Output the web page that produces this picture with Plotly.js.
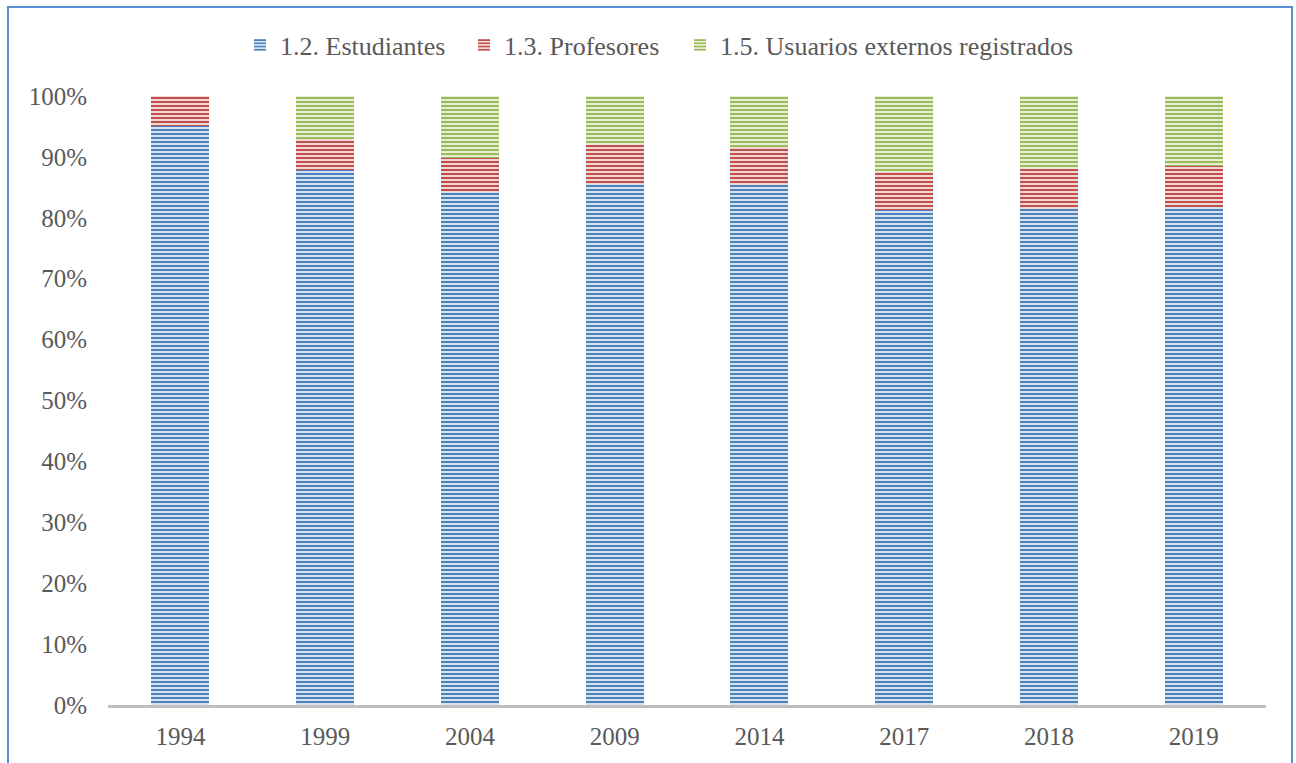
<!DOCTYPE html>
<html>
<head>
<meta charset="utf-8">
<script src="https://cdn.plot.ly/plotly-3.0.1.min.js"></script>
<style>
  html, body { margin: 0; padding: 0; background: #ffffff; }
  #wrap { position: relative; width: 1296px; height: 763px; overflow: hidden; }
  #chart { width: 1296px; height: 763px; }
  #frame { position: absolute; left: 7px; top: 6px; width: 1286px; height: 800px;
           border: 2px solid #5b8fd4; pointer-events: none; box-sizing: border-box; }
</style>
</head>
<body>
<div id="wrap">
  <div id="chart"></div>
  <div id="frame"></div>
</div>
<script>
const years = ["1994", "1999", "2004", "2009", "2014", "2017", "2018", "2019"];
const estudiantes = [95.1, 87.8, 84.2, 85.5, 85.4, 81.3, 81.4, 81.7];
const profesores  = [4.9, 5.1, 5.7, 6.4, 6.2, 6.3, 6.6, 6.8];
const externos    = [0.0, 7.1, 10.1, 8.1, 8.4, 12.4, 12.0, 11.5];
const yTicks = [0, 10, 20, 30, 40, 50, 60, 70, 80, 90, 100];
const yTickText = yTicks.map(v => v + "%");

function barTrace(name, values, fg, bg, lw) {
  const t = {
    type: "bar",
    name: name,
    x: years,
    y: values,
    marker: {
      color: bg,
      line: { width: 0 },
      pattern: { shape: "-", size: 4, solidity: 0.5, fgcolor: fg, bgcolor: bg, fillmode: "replace" }
    },
    hoverinfo: "x+y+name"
  };
  if (lw) t.legendwidth = lw;
  return t;
}

const data = [
  barTrace("1.2. Estudiantes", estudiantes, "#4f81bd", "#d6e2f2", 179),
  barTrace("1.3. Profesores", profesores, "#c0504d", "#f1d6d5", 171),
  barTrace("1.5. Usuarios externos registrados", externos, "#9bbb59", "#e6efd6", null)
];

const font = { family: "Liberation Serif, Cambria, serif", size: 25, color: "#595959" };

const layout = {
  width: 1296,
  height: 763,
  barmode: "stack",
  bargap: 0.6,
  paper_bgcolor: "#ffffff",
  plot_bgcolor: "#ffffff",
  margin: { l: 108, r: 30, t: 96, b: 58, pad: 0 },
  font: font,
  showlegend: true,
  legend: {
    orientation: "h",
    xref: "container", yref: "container",
    x: 0.1852, xanchor: "left",
    y: 0.941, yanchor: "middle",
    font: { family: font.family, size: 26, color: "#595959" },
    traceorder: "normal",
    bgcolor: "rgba(0,0,0,0)"
  },
  xaxis: {
    type: "category",
    showgrid: false,
    showline: true,
    linecolor: "#bfbfbf",
    linewidth: 3,
    ticks: "",
    ticklabelstandoff: 7,
    tickfont: font,
    zeroline: false
  },
  yaxis: {
    range: [0, 100],
    tickvals: yTicks,
    ticktext: yTickText,
    showgrid: false,
    showline: false,
    zeroline: false,
    ticks: "",
    ticklabelstandoff: 20,
    tickfont: font
  }
};

Plotly.newPlot("chart", data, layout, { displayModeBar: false, staticPlot: true });
</script>
</body>
</html>
